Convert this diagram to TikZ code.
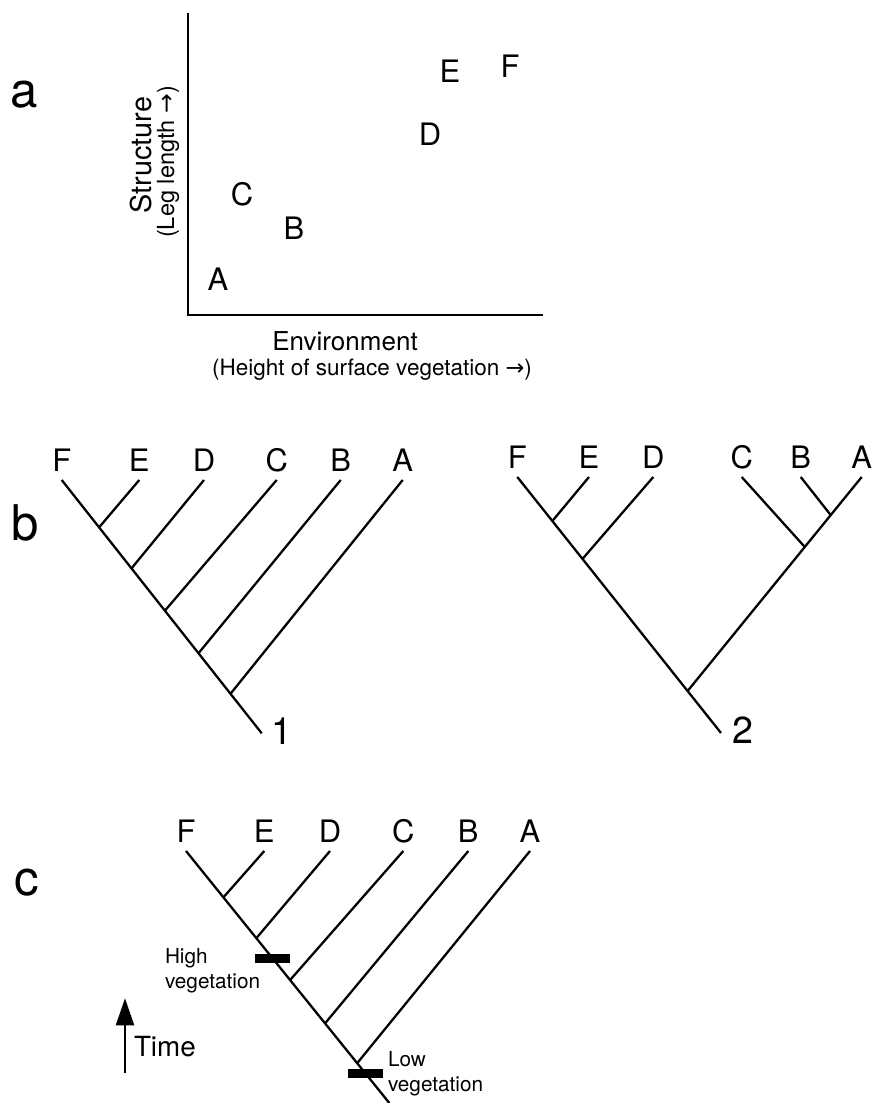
\documentclass[tikz,border=0pt]{standalone}
\usepackage{fontspec}
\setmainfont{TeX Gyre Heros}
\newfontfamily\arrowfont{DejaVu Sans}
\newcommand{\rarr}{{\arrowfont →}}
\usepackage{tikz}
\usetikzlibrary{arrows.meta, positioning, calc}

\begin{document}
\begin{tikzpicture}[x=1cm, y=1cm,
  branch/.style={line width=0.65pt},
  taxon/.style={font=\fontsize{8.8}{10}\selectfont, inner sep=0pt},
  panel/.style={font=\fontsize{14}{16}\selectfont, inner sep=0pt},
  treeno/.style={font=\fontsize{10.7}{12}\selectfont, inner sep=0pt},
  axlab/.style={font=\fontsize{7.4}{9}\selectfont, inner sep=0pt},
  axsub/.style={font=\fontsize{6.4}{8}\selectfont, inner sep=0pt},
  event/.style={fill=black, minimum width=0.35cm, minimum height=0.09cm, inner sep=0pt},
  note/.style={font=\fontsize{5.9}{6.9}\selectfont, align=left, inner sep=0pt}]
\useasboundingbox (0,0) rectangle (8.73,11.03);

% panel a: structure against environment
\node[panel] (pa) at (0.243,10.08) {a};
\coordinate (ytop) at (1.88,10.90);
\coordinate (orig) at (1.88,7.88);
\coordinate (xend) at (5.43,7.88);
\draw[branch] (ytop) -- (orig) -- (xend);
\node[taxon] (sA) at (2.18,8.24) {A};
\node[taxon] (sB) at (2.94,8.75) {B};
\node[taxon] (sC) at (2.42,9.09) {C};
\node[taxon] (sD) at (4.30,9.69) {D};
\node[taxon] (sE) at (4.50,10.32) {E};
\node[taxon] (sF) at (5.10,10.37) {F};
\node[axlab, font=\fontsize{8.2}{10}\selectfont, rotate=90] (ylab) at (1.41,9.48) {Structure};
\node[axsub, font=\fontsize{6.7}{8}\selectfont, rotate=90] (ysub) at (1.68,9.41) {(Leg length \rarr)};
\node[axlab] (xlab) at (3.45,7.62) {Environment};
\node[axsub] (xsub) at (3.72,7.33) {(Height of surface vegetation \rarr)};

% panel b, tree 1: comb
\node[panel] (pb) at (0.25,5.805) {b};
\coordinate (t1F) at (0.617,6.23);
\coordinate (t1E) at (1.393,6.23);
\coordinate (t1D) at (2.040,6.23);
\coordinate (t1C) at (2.767,6.23);
\coordinate (t1B) at (3.407,6.23);
\coordinate (t1A) at (4.027,6.23);
\coordinate (t1r) at (2.617,3.697);
\coordinate (j1E) at ($(t1F)!0.187!(t1r)$);
\coordinate (j1D) at ($(t1F)!0.349!(t1r)$);
\coordinate (j1C) at ($(t1F)!0.516!(t1r)$);
\coordinate (j1B) at ($(t1F)!0.684!(t1r)$);
\coordinate (j1A) at ($(t1F)!0.844!(t1r)$);
\draw[branch] (t1F) -- (t1r);
\draw[branch] (t1E) -- (j1E);
\draw[branch] (t1D) -- (j1D);
\draw[branch] (t1C) -- (j1C);
\draw[branch] (t1B) -- (j1B);
\draw[branch] (t1A) -- (j1A);
\node[taxon, above=0.075cm of t1F] (l1F) {F};
\node[taxon, above=0.075cm of t1E] (l1E) {E};
\node[taxon, above=0.075cm of t1D] (l1D) {D};
\node[taxon, above=0.075cm of t1C] (l1C) {C};
\node[taxon, above=0.075cm of t1B] (l1B) {B};
\node[taxon, above=0.075cm of t1A] (l1A) {A};
\node[treeno] (n1) at (2.82,3.72) {1};

% panel b, tree 2: two clades
\coordinate (t2F) at (5.173,6.26);
\coordinate (t2E) at (5.890,6.26);
\coordinate (t2D) at (6.533,6.26);
\coordinate (t2C) at (7.417,6.26);
\coordinate (t2B) at (8.007,6.26);
\coordinate (t2A) at (8.617,6.26);
\coordinate (t2r) at (7.21,3.70);
\coordinate (j2E) at ($(t2F)!0.172!(t2r)$);
\coordinate (j2D) at ($(t2F)!0.320!(t2r)$);
\coordinate (j2R) at ($(t2F)!0.836!(t2r)$);
\coordinate (j2B) at ($(t2A)!0.178!(j2R)$);
\coordinate (j2C) at ($(t2A)!0.327!(j2R)$);
\draw[branch] (t2F) -- (t2r);
\draw[branch] (t2A) -- (j2R);
\draw[branch] (t2E) -- (j2E);
\draw[branch] (t2D) -- (j2D);
\draw[branch] (t2C) -- (j2C);
\draw[branch] (t2B) -- (j2B);
\node[taxon, above=0.075cm of t2F] (l2F) {F};
\node[taxon, above=0.075cm of t2E] (l2E) {E};
\node[taxon, above=0.075cm of t2D] (l2D) {D};
\node[taxon, above=0.075cm of t2C] (l2C) {C};
\node[taxon, above=0.075cm of t2B] (l2B) {B};
\node[taxon, above=0.075cm of t2A] (l2A) {A};
\node[treeno] (n2) at (7.433,3.73) {2};

% panel c: comb with vegetation shifts
\node[panel] (pc) at (0.27,2.20) {c};
\coordinate (t3F) at (1.860,2.52);
\coordinate (t3E) at (2.643,2.52);
\coordinate (t3D) at (3.300,2.52);
\coordinate (t3C) at (4.033,2.52);
\coordinate (t3B) at (4.683,2.52);
\coordinate (t3A) at (5.300,2.52);
\coordinate (t3r) at (3.893,0.0);
\coordinate (j3E) at ($(t3F)!0.184!(t3r)$);
\coordinate (j3D) at ($(t3F)!0.346!(t3r)$);
\coordinate (j3C) at ($(t3F)!0.512!(t3r)$);
\coordinate (j3B) at ($(t3F)!0.684!(t3r)$);
\coordinate (j3A) at ($(t3F)!0.842!(t3r)$);
\draw[branch] (t3F) -- (t3r);
\draw[branch] (t3E) -- (j3E);
\draw[branch] (t3D) -- (j3D);
\draw[branch] (t3C) -- (j3C);
\draw[branch] (t3B) -- (j3B);
\draw[branch] (t3A) -- (j3A);
\node[taxon, above=0.075cm of t3F] (l3F) {F};
\node[taxon, above=0.075cm of t3E] (l3E) {E};
\node[taxon, above=0.075cm of t3D] (l3D) {D};
\node[taxon, above=0.075cm of t3C] (l3C) {C};
\node[taxon, above=0.075cm of t3B] (l3B) {B};
\node[taxon, above=0.075cm of t3A] (l3A) {A};
\node[event] (hibar) at ($(t3F)!0.425!(t3r)$) {};
\node[event] (lobar) at ($(t3F)!0.883!(t3r)$) {};
\node[note, anchor=north west] (hilab) at (1.643,1.55) {High\\vegetation};
\node[note, anchor=north west] (lolab) at (3.873,0.52) {Low\\vegetation};
\coordinate (tbot) at (1.25,0.297);
\coordinate (ttop) at (1.25,1.047);
\draw[branch, -{Triangle[length=0.27cm, width=0.18cm]}] (tbot) -- (ttop);
\node[font=\fontsize{7.9}{9}\selectfont, inner sep=0pt, anchor=base west] (time) at (1.333,0.463) {Time};
\end{tikzpicture}
\end{document}
